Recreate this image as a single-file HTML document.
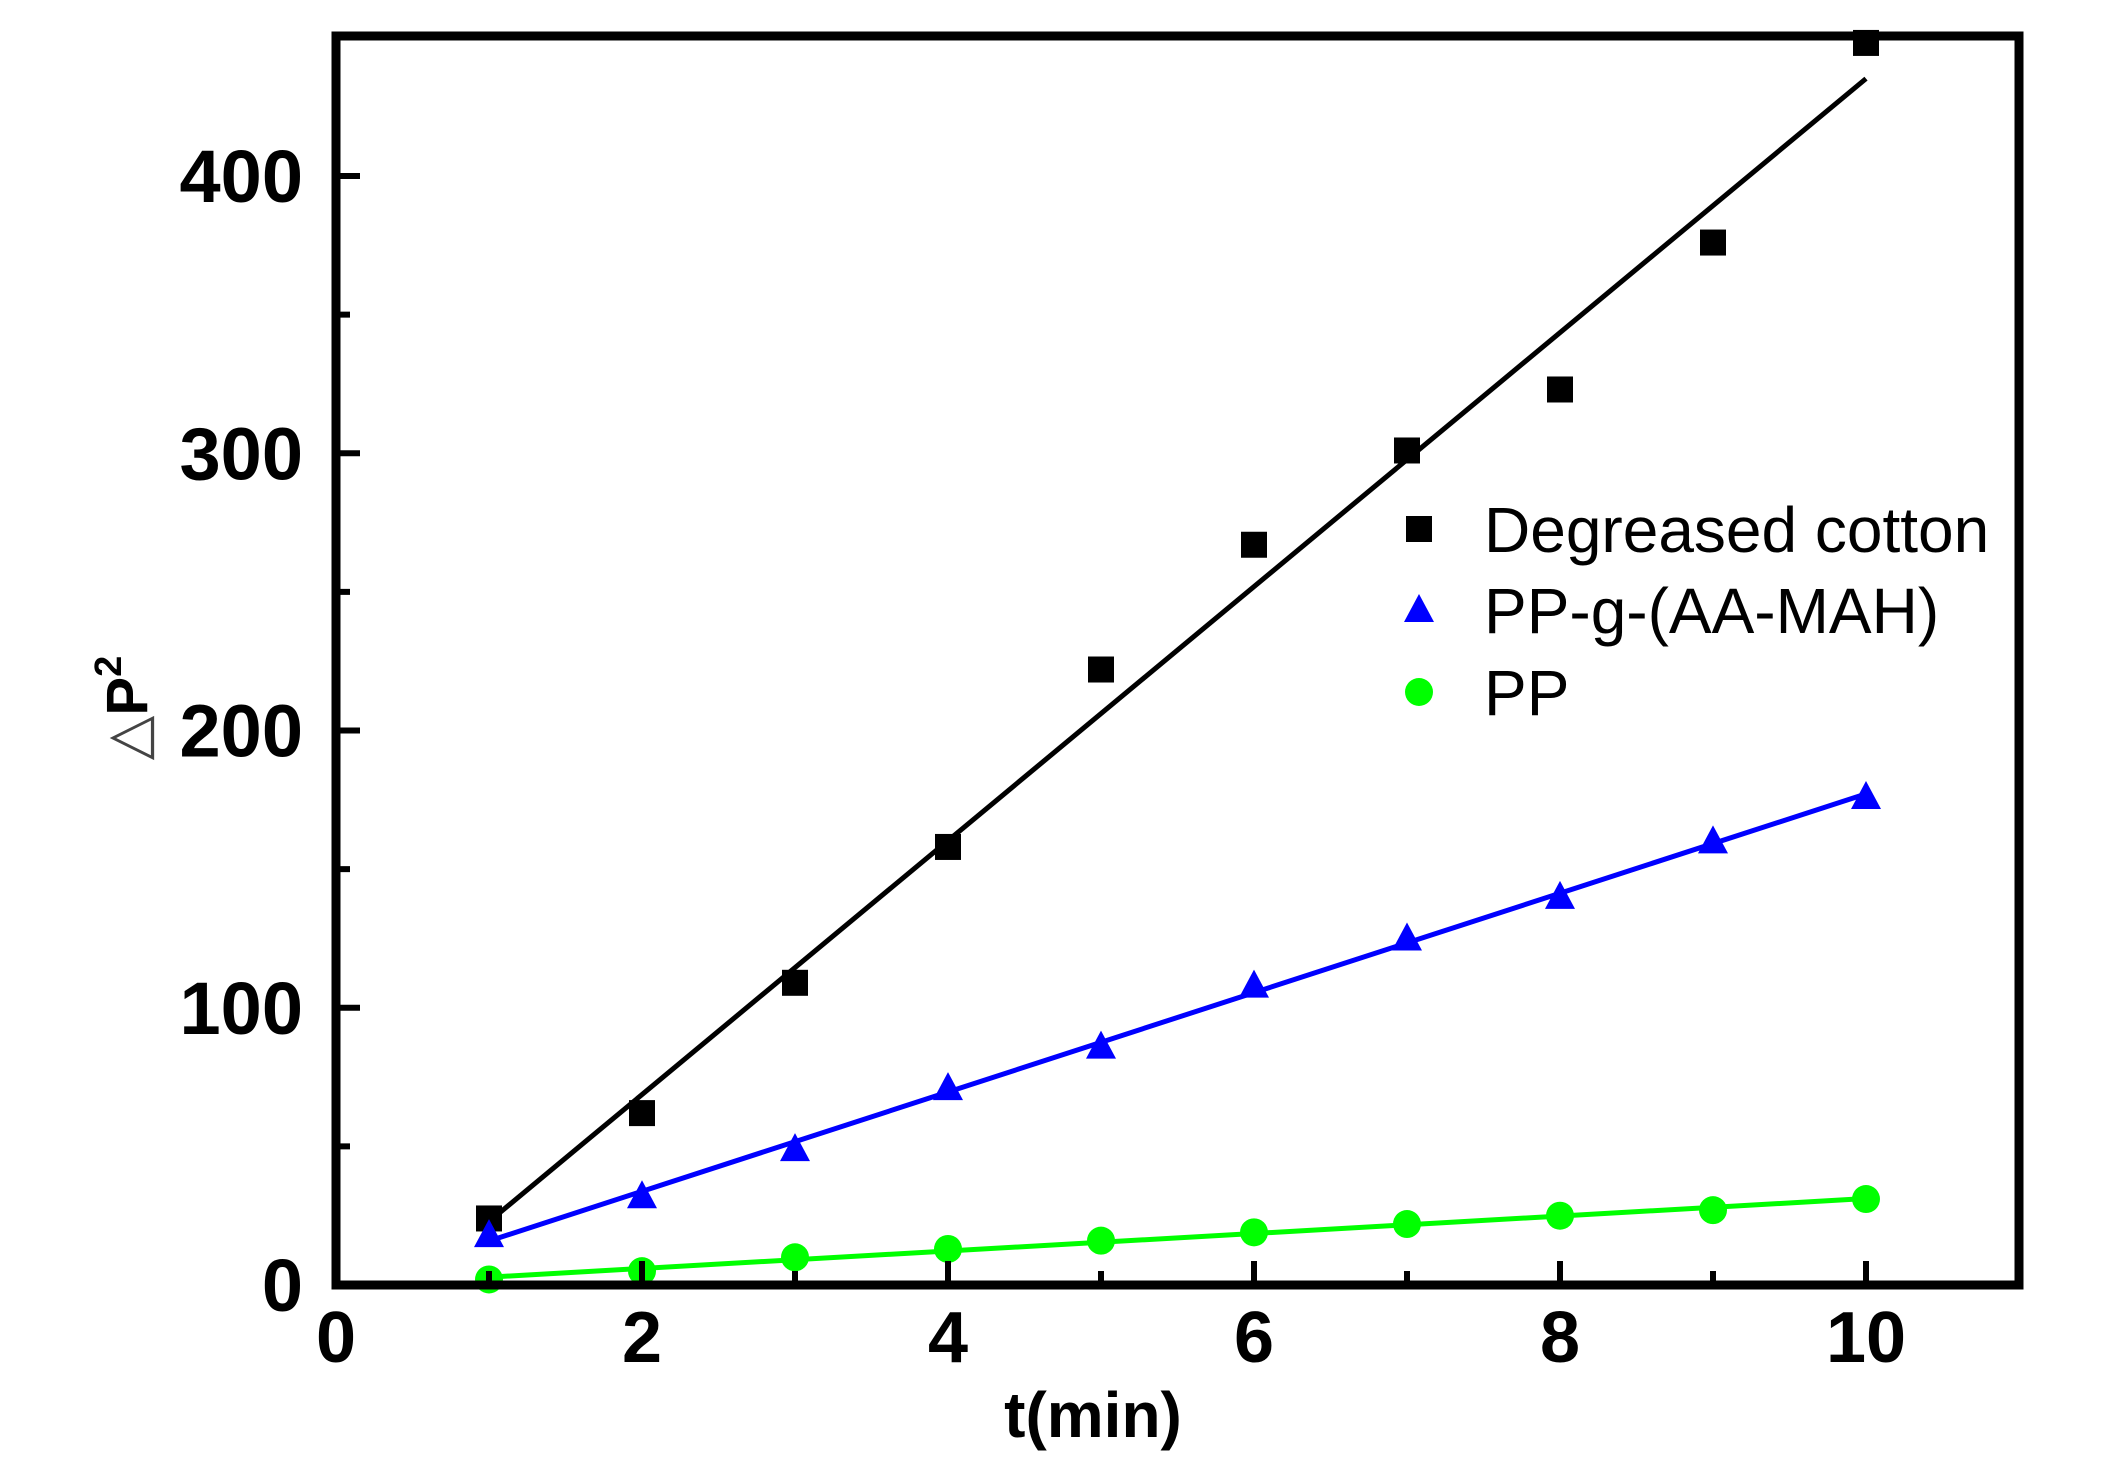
<!DOCTYPE html>
<html><head><meta charset="utf-8"><style>
html,body{margin:0;padding:0;background:#fff;}
svg{display:block;font-family:"Liberation Sans",sans-serif;}
</style></head><body>
<svg id="chart" width="2103" height="1465" viewBox="0 0 2103 1465" xmlns="http://www.w3.org/2000/svg">
<g id="plot"></g>
</svg>
<script>
const xTicks=[0,2,4,6,8,10];
const yTicks=[0,100,200,300,400];
const tVals=[1,2,3,4,5,6,7,8,9,10];
const cottonVals=[24,62,109,158,222,267,301,323,376,448];
const graftVals=[18,32,49,71,86,108,125,140,160,176];
const ppVals=[2,5,10,13,16,19,22,25,27,31];
const seriesNames=["Degreased cotton","PP-g-(AA-MAH)","PP"];

const X0=336,X1=2019,Y0=1285,Y1=36,XMIN=0,XMAX=11,YMIN=0,YMAX=450.5;
function sx(v){return X0+(v-XMIN)/(XMAX-XMIN)*(X1-X0);}
function sy(v){return Y0-(v-YMIN)/(YMAX-YMIN)*(Y0-Y1);}
const NS="http://www.w3.org/2000/svg";
const g=document.getElementById('plot');
function mk(tag,attrs,parent){const e=document.createElementNS(NS,tag);for(const k in attrs)e.setAttribute(k,attrs[k]);(parent||g).appendChild(e);return e;}

function fit(xs,ys){const n=xs.length;let mx=0,my=0;for(let i=0;i<n;i++){mx+=xs[i];my+=ys[i];}mx/=n;my/=n;let sxy=0,sxx=0;for(let i=0;i<n;i++){sxy+=(xs[i]-mx)*(ys[i]-my);sxx+=(xs[i]-mx)**2;}const b=sxy/sxx;return [my-b*mx,b];}
const series=[{vals:cottonVals,color:"#000",shape:"square",name:"cotton"},{vals:graftVals,color:"#0000ff",shape:"triangle",name:"graft"},{vals:ppVals,color:"#00ff00",shape:"circle",name:"pp"}];
function marker(shape,color,cx,cy,parent){
  let e;
  if(shape==="square")e=mk('rect',{x:cx-13,y:cy-13,width:26,height:26,fill:color},parent);
  else if(shape==="triangle")e=mk('polygon',{points:`${cx},${cy-16} ${cx-15},${cy+12} ${cx+15},${cy+12}`,fill:color},parent);
  else e=mk('circle',{cx:cx,cy:cy,r:14,fill:color},parent);
  return e;
}
series.forEach(s=>{
  const [a,b]=fit(tVals,s.vals);
  const t0=tVals[0],t1=tVals[tVals.length-1];
  const ln=mk('line',{x1:sx(t0),y1:sy(a+b*t0),x2:sx(t1),y2:sy(a+b*t1),stroke:s.color,'stroke-width':5});
  
  
  s.vals.forEach((v,i)=>{
    const m=marker(s.shape,s.color,sx(tVals[i]),sy(v));
    
    
  });
});

const fr=mk('rect',{x:X0,y:Y1,width:X1-X0,height:Y0-Y1,fill:'none',stroke:'#000','stroke-width':9});



for(let v=1;v<=10;v++){
  const major=v%2===0;
  const t=mk('line',{x1:sx(v),y1:Y0,x2:sx(v),y2:Y0-(major?24:14),stroke:'#000','stroke-width':6});
  
  
}
xTicks.forEach(v=>{
  const t=mk('text',{x:sx(v),y:1362,'text-anchor':'middle','font-size':72,'font-weight':'bold'});
  t.textContent=v;
  
  
});
for(let v=50;v<=400;v+=50){
  const major=v%100===0;
  const t=mk('line',{x1:X0,y1:sy(v),x2:X0+(major?24:14),y2:sy(v),stroke:'#000','stroke-width':6});
  
  
}
yTicks.forEach(v=>{
  const t=mk('text',{x:303,y:sy(v)+26,'text-anchor':'end','font-size':74,'font-weight':'bold'});
  t.textContent=v;
  
  
});

const xt=mk('text',{x:1093,y:1437,'text-anchor':'middle','font-size':64,'font-weight':'bold'});
xt.textContent='t(min)';


const yt=mk('text',{x:0,y:0,'text-anchor':'middle','font-size':58,'font-weight':'bold',transform:'translate(147,708) rotate(-90)'});
yt.innerHTML='<tspan font-weight="normal" fill="#444">△</tspan>P<tspan font-size="38" dy="-26">2</tspan>';



const lg=mk('g',{});


const rowsY=[529,610,692];
series.forEach((s,i)=>{
  const m=marker(s.shape,s.color,1419,rowsY[i],lg);
  
  
  const t=mk('text',{x:1484,y:rowsY[i]+23,'font-size':64},lg);
  t.textContent=seriesNames[i];
  
  
});
</script>
</body></html>
